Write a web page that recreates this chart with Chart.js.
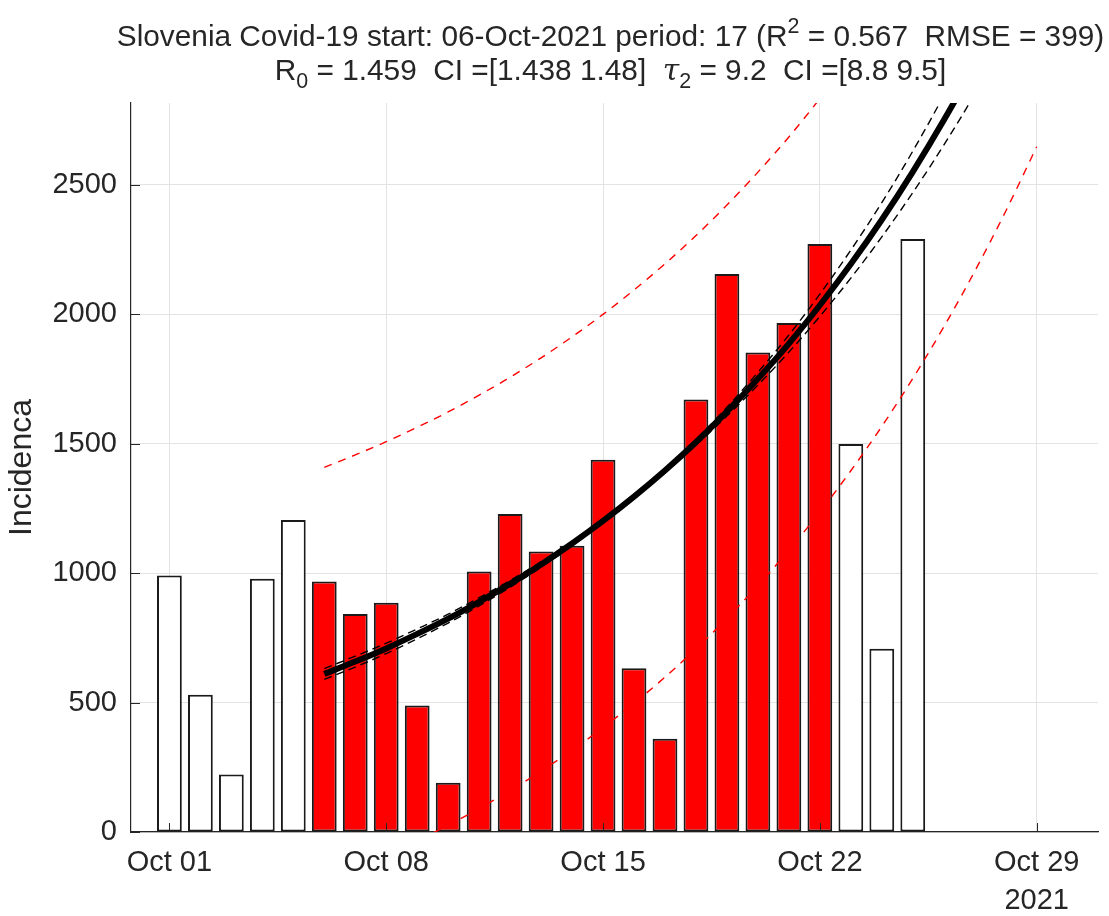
<!DOCTYPE html>
<html>
<head>
<meta charset="utf-8">
<script src="https://cdn.jsdelivr.net/npm/chart.js@4.4.0/dist/chart.umd.min.js"></script>
<style>
html,body{margin:0;padding:0;background:#ffffff;}
#wrap{width:1109px;height:916px;position:relative;}
</style>
</head>
<body>
<div id="wrap"><canvas id="c" width="1109" height="916"></canvas></div>
<script>
// ---- data (day of October 2021) ----
const days = [1,2,3,4,5,6,7,8,9,10,11,12,13,14,15,16,17,18,19,20,21,22,23,24,25];
const incidence = [990,530,222,978,1205,967,842,885,488,190,1006,1228,1083,1105,1437,632,360,1670,2155,1852,1965,2271,1498,708,2290];
const fitStart = 6;
const fitPeriod = 17;

const curveDays = [6,7,8,9,10,11,12,13,14,15,16,17,18,19,20,21,22,23,24,25,26,27,28,29];
const fitValues = [610,658,709,765,824,889,958,1033,1114,1201,1295,1396,1505,1623,1750,1886,2034,2193,2364,2549,2748,2963,3195,3444];
const fitUpper  = [631,679,729,784,841,905,971,1044,1122,1205,1295,1401,1516,1640,1775,1919,2077,2247,2430,2629,2844,3077,3329,3601];
const fitLower  = [589,637,689,746,807,873,945,1022,1106,1197,1295,1391,1494,1606,1726,1853,1991,2139,2298,2469,2652,2849,3061,3287];
const predUpper = [1408,1456,1507,1563,1622,1687,1756,1831,1912,1999,2093,2194,2303,2421,2548,2684,2832,2991,3162,3347,3546,3761,3993,4242];
const predLower = [-188,-140,-89,-33,26,91,160,235,316,403,497,598,707,825,952,1088,1236,1395,1566,1751,1950,2165,2397,2646];

const xTicks = [1,8,15,22,29];
const xTickLabels = ['Oct 01','Oct 08','Oct 15','Oct 22','Oct 29'];
const xYearLabel = '2021';
const yTicks = [0,500,1000,1500,2000,2500];

const titleLine1 = [
  {t:'Slovenia Covid-19 start: 06-Oct-2021 period: 17 (R'},
  {t:'2', s:'sup'},
  {t:' = 0.567  RMSE = 399)'}
];
const titleLine2 = [
  {t:'R'},
  {t:'0', s:'sub'},
  {t:' = 1.459  CI =[1.438 1.48]  '},
  {t:'\u03C4', s:'it'},
  {t:'2', s:'sub'},
  {t:' = 9.2  CI =[8.8 9.5]'}
];

// ---- style ----
const FONT = '"Liberation Sans", Arial, Helvetica, sans-serif';
const TXT = '#262626';
const X_MIN = -0.24, X_MAX = 30.98, Y_MIN = 0, Y_MAX = 2815;

const pts = (xs, ys) => xs.map((x, i) => ({x: x, y: ys[i]}));

const titlePlugin = {
  id: 'richTitle',
  afterDraw(chart) {
    const ctx = chart.ctx;
    const ca = chart.chartArea;
    const cx = (ca.left + ca.right) / 2 - 4;
    const size = 29.8;
    const drawLine = (segs, baseY) => {
      const fontFor = s => {
        if (s.s === 'sup' || s.s === 'sub') return (size * 0.72) + 'px ' + FONT;
        if (s.s === 'it') return 'italic ' + size + 'px "DejaVu Serif", "Liberation Serif", serif';
        return size + 'px ' + FONT;
      };
      let total = 0;
      segs.forEach(s => { ctx.font = fontFor(s); s.w = ctx.measureText(s.t).width; total += s.w; });
      let x = cx - total / 2;
      ctx.save();
      ctx.fillStyle = TXT;
      ctx.textBaseline = 'alphabetic';
      ctx.textAlign = 'left';
      segs.forEach(s => {
        ctx.font = fontFor(s);
        let y = baseY;
        if (s.s === 'sup') y = baseY - size * 0.42;
        if (s.s === 'sub') y = baseY + size * 0.28;
        ctx.fillText(s.t, x, y);
        x += s.w;
      });
      ctx.restore();
    };
    drawLine(titleLine1, 46);
    drawLine(titleLine2, 80);
  }
};

const inwardTicks = {
  id: 'inwardTicks',
  afterDraw(chart) {
    const ctx = chart.ctx;
    const xs = chart.scales.x, ys = chart.scales.y;
    const ca = chart.chartArea;
    ctx.save();
    ctx.strokeStyle = TXT;
    ctx.lineWidth = 1;
    ctx.beginPath();
    yTicks.forEach(v => {
      const py = Math.round(ys.getPixelForValue(v)) + 0.5;
      ctx.moveTo(ca.left, py); ctx.lineTo(ca.left + 9, py);
    });
    xTicks.forEach(v => {
      const px = Math.round(xs.getPixelForValue(v)) + 0.5;
      ctx.moveTo(px, ca.bottom); ctx.lineTo(px, ca.bottom - 9);
    });
    ctx.stroke();
    ctx.restore();
  }
};

new Chart(document.getElementById('c'), {
  type: 'bar',
  data: {
    datasets: [
      {
        type: 'line', label: 'prediction upper', data: pts(curveDays, predUpper),
        borderColor: '#ff0000', borderWidth: 1.4, borderDash: [8, 7], pointRadius: 0,
        cubicInterpolationMode: 'monotone', fill: false, order: 1
      },
      {
        type: 'line', label: 'prediction lower', data: pts(curveDays, predLower),
        borderColor: '#ff0000', borderWidth: 1.4, borderDash: [8, 7], pointRadius: 0,
        cubicInterpolationMode: 'monotone', fill: false, order: 1
      },
      {
        type: 'line', label: 'fit upper', data: pts(curveDays, fitUpper),
        borderColor: '#000000', borderWidth: 1.4, borderDash: [8, 5], pointRadius: 0,
        cubicInterpolationMode: 'monotone', fill: false, order: 1
      },
      {
        type: 'line', label: 'fit lower', data: pts(curveDays, fitLower),
        borderColor: '#000000', borderWidth: 1.4, borderDash: [8, 5], pointRadius: 0,
        cubicInterpolationMode: 'monotone', fill: false, order: 1
      },
      {
        type: 'line', label: 'fit', data: pts(curveDays, fitValues),
        borderColor: '#000000', borderWidth: 6, pointRadius: 0,
        cubicInterpolationMode: 'monotone', fill: false, order: 0
      },
      {
        type: 'bar', label: 'Incidenca', data: pts(days, incidence),
        backgroundColor: days.map(d => (d >= fitStart && d < fitStart + fitPeriod) ? '#ff0000' : '#ffffff'),
        borderColor: '#1a1a1a', borderWidth: 2, borderSkipped: false,
        barPercentage: 1.0, categoryPercentage: 0.8, order: 10
      }
    ]
  },
  options: {
    responsive: false,
    devicePixelRatio: 1,
    animation: false,
    layout: {padding: {left: 0, top: 103, right: 11, bottom: 0}},
    plugins: {legend: {display: false}, tooltip: {enabled: false}, title: {display: false}},
    scales: {
      x: {
        type: 'linear', min: X_MIN, max: X_MAX, offset: false,
        grid: {color: '#e3e3e3', lineWidth: 1, drawTicks: false, offset: false},
        border: {display: true, color: TXT, width: 1.2},
        afterBuildTicks: s => { s.ticks = xTicks.map(v => ({value: v})); },
        afterFit: s => { s.height = 84; },
        ticks: {
          autoSkip: false, maxRotation: 0, padding: 12, color: TXT,
          font: {family: FONT, size: 29, lineHeight: 1.32},
          callback: (v) => {
            const i = xTicks.indexOf(v);
            if (i === xTicks.length - 1) return [xTickLabels[i], xYearLabel];
            return xTickLabels[i];
          }
        }
      },
      y: {
        type: 'linear', min: Y_MIN, max: Y_MAX,
        grid: {color: '#e3e3e3', lineWidth: 1, drawTicks: false},
        border: {display: true, color: TXT, width: 1.2},
        afterBuildTicks: s => { s.ticks = yTicks.map(v => ({value: v})); },
        afterFit: s => { s.width = 131; },
        ticks: {padding: 14, color: TXT, font: {family: FONT, size: 29}, callback: v => String(v)},
        title: {display: true, text: 'Incidenca', color: TXT, font: {family: FONT, size: 32}, padding: {top: 3, bottom: 0}}
      }
    }
  },
  plugins: [titlePlugin, inwardTicks]
});
</script>
</body>
</html>
